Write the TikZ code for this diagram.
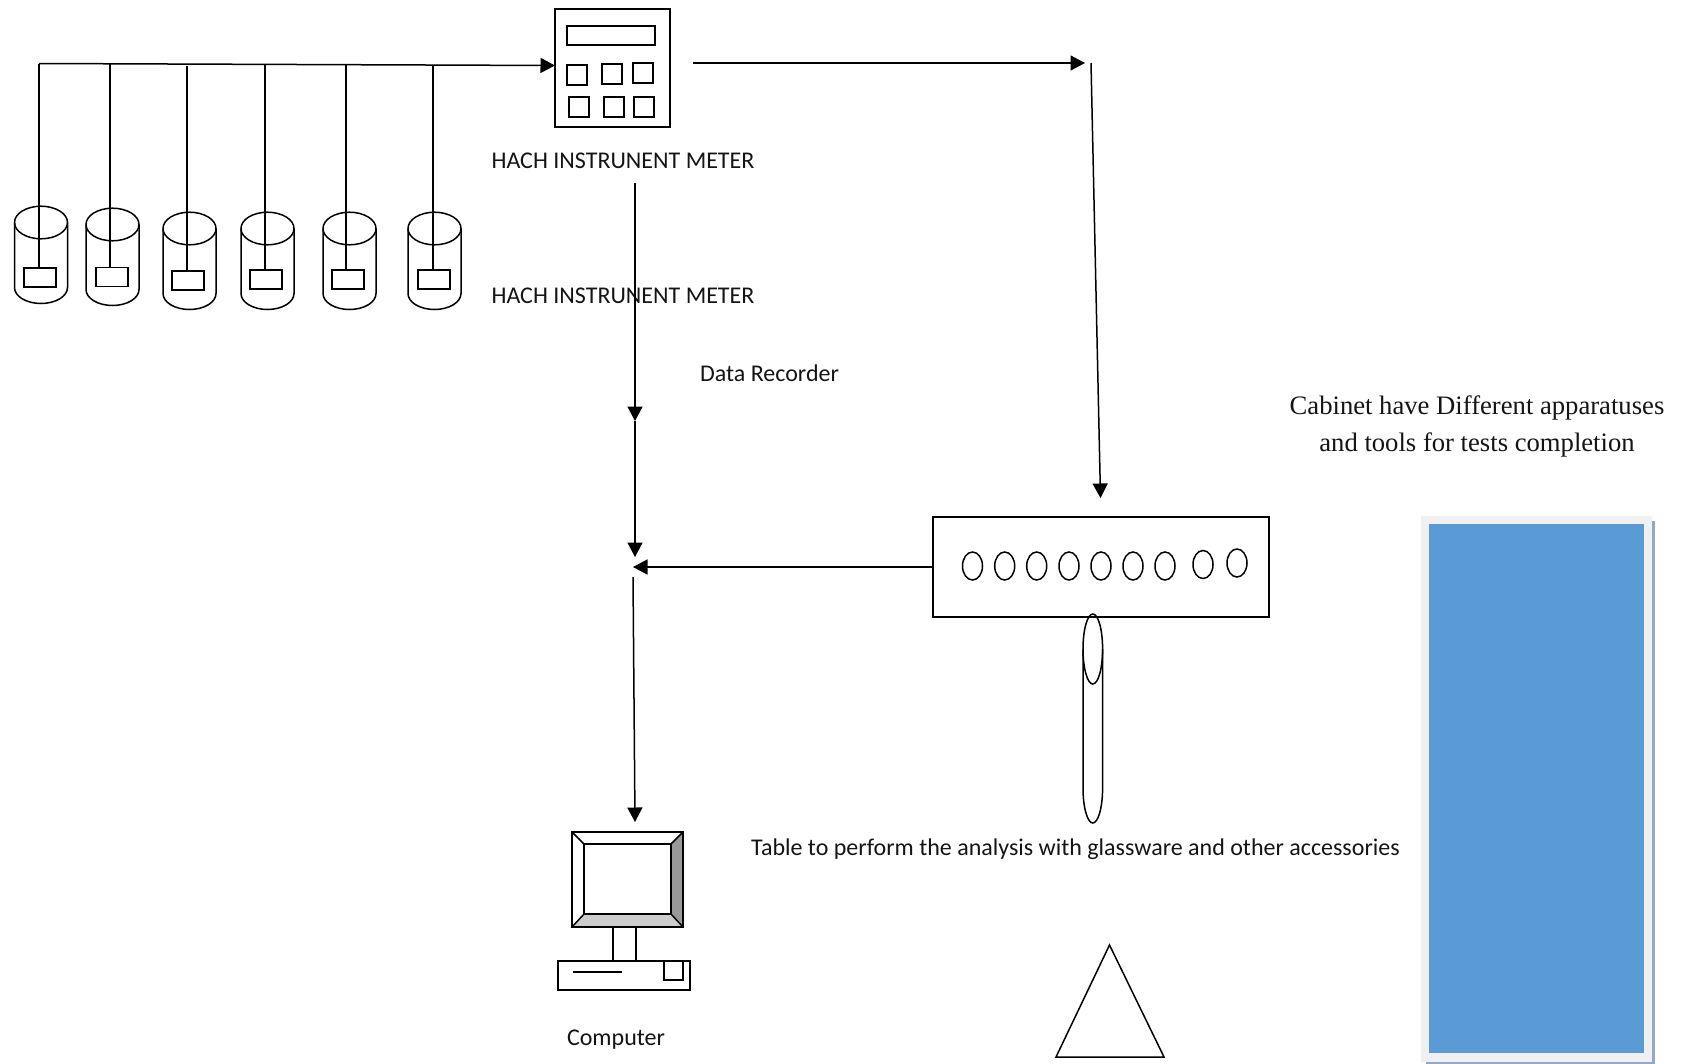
\documentclass[tikz,border=0pt]{standalone}
\usepackage{fontspec}
\setmainfont{Carlito}
\newfontfamily\serifface{Liberation Serif}
\usetikzlibrary{arrows.meta,calc}
\tikzset{
  x=1pt,y=-1pt,
  ln/.style={line width=1.5pt,draw=black},
  conn/.style={ln,-{Triangle[length=14.5pt,width=15pt]}},
  btn/.style={ln,rectangle,inner sep=0pt,outer sep=0pt,minimum width=20pt,minimum height=20pt},
  lbl/.style={font=\fontsize{24}{28}\selectfont,anchor=base,inner sep=0pt,text=black!92},
  serif/.style={font=\serifface\fontsize{26.65}{36.7}\selectfont,align=center,inner sep=0pt,text=black!92}
}
\begin{document}
\begin{tikzpicture}
\useasboundingbox (0,0) rectangle (1689,1063);
% cabinet
\fill[fill={rgb,255:red,143;green,170;blue,200}] (1426,521) rectangle (1655,1063.5);
\fill[fill={rgb,255:red,240;green,240;blue,240}] (1421,516) rectangle (1652,1062);
\fill[fill={rgb,255:red,91;green,155;blue,213}] (1429,524) rectangle (1644,1053);
\node[serif] (cabinetlabel) at (1477,426.5) {Cabinet have Different apparatuses\\and tools for tests completion};
% beakers
\foreach \n/\l/\t/\rx/\rt/\px/\py in {
  1/14.5/222.5/39/63.5/40/277.5,
  2/86/224.5/110/64/112/277,
  3/163/228.5/187/66/188/280.5,
  4/241/228.5/265/65/266/279.5,
  5/323/228.5/346/65/348/279.5,
  6/408/228.5/433/65/434/279.5}{
  \draw[ln] (\l,\t) arc[start angle=180,end angle=540,x radius=26.5,y radius=16.3];
  \draw[ln] (\l,\t) -- (\l,\t+65) arc[start angle=180,end angle=0,x radius=26.5,y radius=16] -- (\l+53,\t);
  \node[ln,rectangle,inner sep=0pt,outer sep=0pt,minimum width=32pt,minimum height=19pt] (paddle\n) at (\px,\py) {};
  \coordinate (rod\n) at (\rx,\rt);
  \draw[ln] (rod\n) -- (rod\n |- paddle\n.north);
}
% meter
\node[ln,rectangle,inner sep=0pt,outer sep=0pt,minimum width=115pt,minimum height=118pt] (meter) at (612.5,68) {};
\node[ln,rectangle,inner sep=0pt,outer sep=0pt,minimum width=88pt,minimum height=19pt] (display) at (611,35.5) {};
\node[btn] (b1) at (577,75) {};
\node[btn] (b2) at (612,74) {};
\node[btn] (b3) at (643,73) {};
\node[btn] (b4) at (579,107) {};
\node[btn] (b5) at (614,107) {};
\node[btn] (b6) at (644,107) {};
\node[lbl] (hach1) at (623,168) {HACH INSTRUNENT METER};
\node[lbl] (hach2) at (623,303) {HACH INSTRUNENT METER};
\node[lbl] (recorder) at (769.5,381) {Data Recorder};
% bus
\coordinate (meterin) at (meter.west |- 0,65.5);
\draw[conn] (rod1) -- (meterin);
% route to the right
\coordinate (r1) at (693,63);
\coordinate (r2) at (1085,63);
\coordinate (r3) at (1091,63);
\coordinate (r4) at (1100.5,498);
\draw[conn] (r1) -- (r2);
\draw[conn] (r3) -- (r4);
% route down
\coordinate (d1) at (635,183);
\coordinate (d2) at (635,421);
\coordinate (d3) at (635,557);
\coordinate (d4) at (633,577);
\draw[conn] (d1) -- (d2);
\draw[conn] (d2) -- (d3);
% bench
\node[ln,rectangle,inner sep=0pt,outer sep=0pt,minimum width=336pt,minimum height=100pt] (bench) at (1101,567) {};
\foreach \n/\x/\y in {1/972.5/566,2/1004.7/566,3/1036.7/566,4/1069/566,5/1101/566,6/1133/566,7/1165/566,8/1203/564.5,9/1237/563}{
  \draw[ln] (\x,\y) ellipse[x radius=10,y radius=14];
}
\coordinate (j) at (633,567);
\draw[conn] (bench.west) -- (j);
% tube
\draw[ln] (1083,649) -- (1083,788) arc[start angle=180,end angle=0,x radius=9.8,y radius=35] -- (1102.6,649);
\draw[ln] (1092.8,649) ellipse[x radius=9.8,y radius=35];
\node[lbl] (table) at (1075.5,855) {Table to perform the analysis with glassware and other accessories};
% computer
\coordinate (c1) at (635,822);
\draw[conn] (d4) -- (c1);
\fill[fill={rgb,255:red,153;green,153;blue,153}] (683,832) -- (671,844) -- (671,914) -- (683,927) -- cycle;
\fill[fill={rgb,255:red,204;green,204;blue,204}] (572,927) -- (584,914) -- (671,914) -- (683,927) -- cycle;
\node[ln,rectangle,inner sep=0pt,outer sep=0pt,minimum width=111pt,minimum height=95pt] (monitor) at (627.5,879.5) {};
\node[ln,rectangle,inner sep=0pt,outer sep=0pt,minimum width=87pt,minimum height=70pt] (screen) at (627.5,879) {};
\draw[ln] (monitor.north west) -- (screen.north west);
\draw[ln] (monitor.north east) -- (screen.north east);
\draw[ln] (monitor.south west) -- (screen.south west);
\draw[ln] (monitor.south east) -- (screen.south east);
\node[ln,rectangle,inner sep=0pt,outer sep=0pt,minimum width=132pt,minimum height=29pt] (base) at (624,975.5) {};
\draw[ln] (613,927) -- (613,961);
\draw[ln] (636,927) -- (636,961);
\draw[ln] (573,972) -- (622,972);
\draw[ln] (664,961) rectangle (683,980);
\node[lbl] (computer) at (616,1045) {Computer};
% triangle
\draw[ln] (1109.5,945) -- (1164,1057) -- (1056,1057) -- cycle;
\end{tikzpicture}
\end{document}
